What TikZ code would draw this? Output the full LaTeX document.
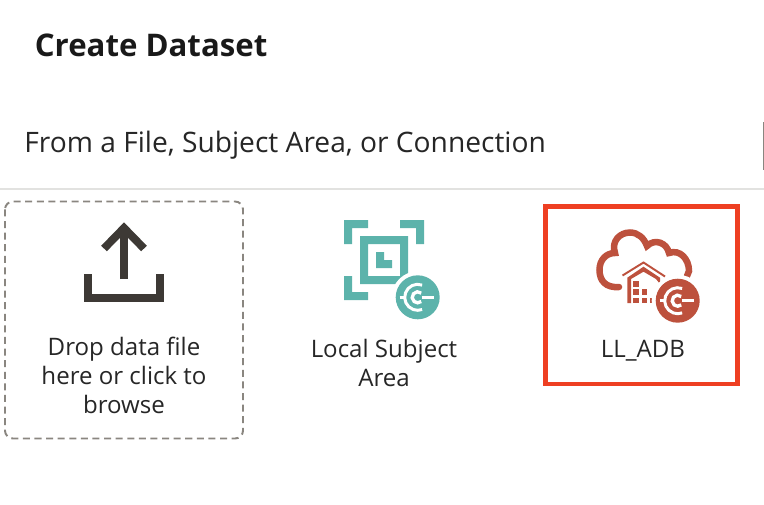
\documentclass[tikz,border=0pt]{standalone}
\usepackage{fontspec}
\setmainfont{Open Sans}
\usepackage{xcolor}
\usetikzlibrary{positioning,calc}
\definecolor{softTeal}{HTML}{5CB3AB}
\definecolor{softRust}{HTML}{BD513D}
\definecolor{lineDark}{HTML}{3D3935}
\definecolor{lineGray}{HTML}{8A8680}
\definecolor{ruleGray}{HTML}{E2E2E0}
\definecolor{pickRed}{HTML}{EE3F22}
\tikzset{
    heading/.style={anchor=base west, inner sep=0pt, font=\fontsize{17.75pt}{20pt}\selectfont\bfseries, text=black!90},
    subheading/.style={anchor=base west, inner sep=0pt, font=\fontsize{16.03pt}{20pt}\selectfont, text=black!85},
    caption/.style={anchor=base, inner sep=0pt, align=center, text=black!85, font=\fontsize{13.7pt}{16.5pt}\selectfont}
}
\newcommand{\plugmark}[1]{%
    % white connector glyph inside a round badge
    \draw[white, line width=1.7pt] ($(#1)+(-70:13)$) arc[start angle=-70, end angle=-290, radius=13];
    \draw[white, line width=1.7pt] ($(#1)+(-18,0)$) -- ($(#1)+(-13,0)$);
    \draw[white, line width=1.9pt] ($(#1)+(-50:5.5)$) arc[start angle=-50, end angle=-310, radius=5.5];
    \draw[white, line width=1.9pt] ($(#1)+(4,0)$) -- ($(#1)+(16,0)$);
}
\begin{document}
\begin{tikzpicture}[x=0.02cm, y=-0.02cm]
    \useasboundingbox (0,0) rectangle (764,504);
    \node[heading] (title) at (34.5,56) {Create Dataset};
    \node[subheading] (source) at (24,152) {From a File, Subject Area, or Connection};
    \draw[ruleGray, line width=1.2pt] (0,189) -- (764,189);
    \fill[lineGray] (762.6,122) rectangle (764,170);

    % drop box
    \draw[lineGray, line width=1.1pt, dashed, dash pattern=on 4pt off 2.6pt, rounded corners=4.5pt] (5,201.5) rectangle (243,438.5);
    \draw[lineDark, line width=4.5pt] (88,274) -- (88,298) -- (160,298) -- (160,274);
    \draw[lineDark, line width=4.5pt] (124,279) -- (124,228);
    \draw[lineDark, line width=4.5pt, miter limit=4] (104,248.5) -- (124,228) -- (144,248.5);
    \node[caption] (drop) at (124,413) {Drop data file\\here or click to\\browse};

    % local subject area
    \fill[softTeal] (344,220) -- (368,220) -- (368,228) -- (352,228) -- (352,244) -- (344,244) -- cycle;
    \fill[softTeal] (424,220) -- (400,220) -- (400,228) -- (416,228) -- (416,244) -- (424,244) -- cycle;
    \fill[softTeal] (344,300) -- (368,300) -- (368,292) -- (352,292) -- (352,276) -- (344,276) -- cycle;
    \fill[softTeal, even odd rule] (360,236) rectangle (408,284) (368,244) rectangle (400,276);
    \fill[softTeal] (376,252) -- (384,252) -- (384,260) -- (392,260) -- (392,268) -- (376,268) -- cycle;
    \fill[white] (417.7,297.3) circle (26);
    \fill[softTeal] (417.7,297.3) circle (22);
    \coordinate (tealplug) at (417.7,297.3);
    \plugmark{tealplug}
    \node[caption] (local) at (384,386) {Local Subject\\Area};

    % connection
    \draw[softRust, line width=3.7pt, line cap=round] (619,287) .. controls (606,288) and (599.5,281) .. (599.5,270) .. controls (599.5,260) and (606,253) .. (615,253) .. controls (611,241) and (620,232.5) .. (630,232.5) .. controls (638,232.5) and (644,238) .. (647,246) .. controls (655,238) and (667,243) .. (669,253) .. controls (680,249) and (689,259) .. (689,271) -- (687,276);
    \draw[softRust, line width=1.1pt] (622.5,275.5) -- (643.5,262.5) -- (665,276.5);
    \fill[softRust] (627.3,277.7) -- (643.5,266.7) -- (660,277.7) -- (660,284) -- (656,279) -- (643.5,271.7) -- (631,279) -- (631,303) -- (627.3,303) -- cycle;
    \foreach \gx/\gy in {633.3/281, 633.3/289.3, 633.3/297.5, 641.5/289.3, 641.5/297.5, 649.7/297.5}
        \fill[softRust] (\gx,\gy) rectangle +(5.8,5.8);
    \fill[white] (677.7,300.7) circle (26);
    \fill[softRust] (677.7,300.7) circle (22);
    \coordinate (rustplug) at (677.7,300.7);
    \plugmark{rustplug}
    \node[caption] (adb) at (643,357) {LL\_ADB};

    \draw[pickRed, line width=2.7pt] (545.5,206.5) rectangle (737.5,384);
\end{tikzpicture}
\end{document}
